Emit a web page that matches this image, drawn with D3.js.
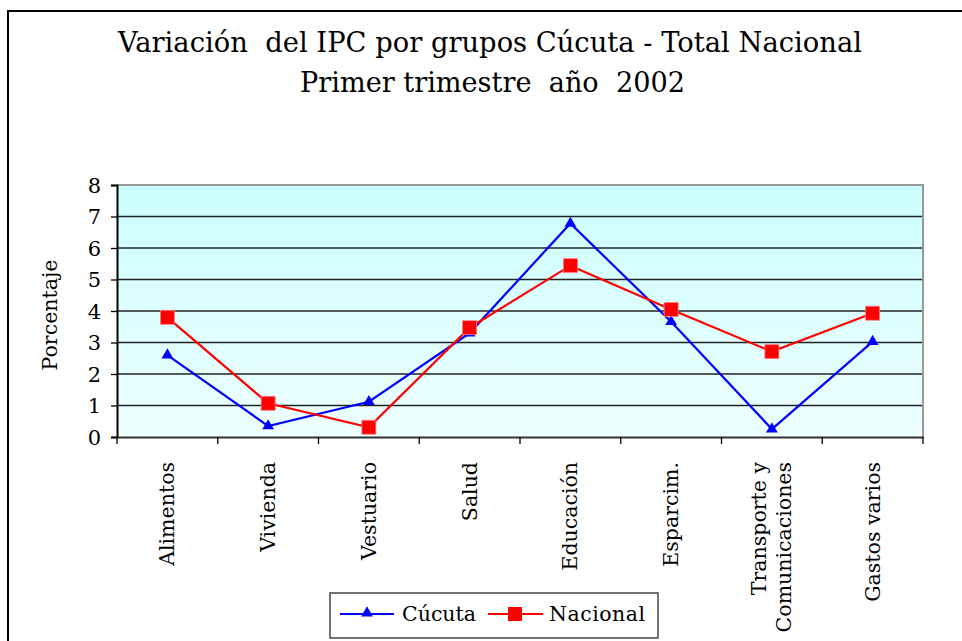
<!DOCTYPE html>
<html><head><meta charset="utf-8">
<script src="https://cdn.jsdelivr.net/npm/d3@7"></script>
<style>body{margin:0;background:#fff}svg{display:block}text{white-space:pre}</style>
</head><body><svg id="c" width="962" height="641"></svg>
<script>
const categories = ["Alimentos","Vivienda","Vestuario","Salud","Educación","Esparcim.","Transporte y|Comunicaciones","Gastos varios"];
const cucuta   = [2.6, 0.35, 1.12, 3.3, 6.78, 3.66, 0.25, 3.03];
const nacional = [3.8, 1.07, 0.31, 3.47, 5.44, 4.05, 2.71, 3.93];
const yTicks = [0,1,2,3,4,5,6,7,8];
const titleLines = ["Variación  del IPC por grupos Cúcuta - Total Nacional","Primer trimestre  año  2002"];
const seriesNames = ["Cúcuta","Nacional"];

const svg = d3.select("#c");
const serif = "DejaVu Serif";
const L=117, R=923, T=185, B=437;

// outer frame
svg.append("rect").attr("x",8).attr("y",11).attr("width",1000).attr("height",700)
  .attr("fill","none").attr("stroke","#000").attr("stroke-width",2);

// title
svg.append("text").attr("x",118).attr("y",52)
  .attr("font-family",serif).attr("font-size",28)
  .attr("textLength",744).attr("lengthAdjust","spacingAndGlyphs").text(titleLines[0]);
svg.append("text").attr("x",300).attr("y",92)
  .attr("font-family",serif).attr("font-size",28)
  .attr("textLength",385).attr("lengthAdjust","spacingAndGlyphs").text(titleLines[1]);

const x = d3.scaleBand().domain(categories).range([L,R]);
const y = d3.scaleLinear().domain([0,8]).range([B,T]);

const defs = svg.append("defs");
const g = defs.append("linearGradient").attr("id","bg").attr("x1",0).attr("y1",0).attr("x2",0).attr("y2",1);
g.append("stop").attr("offset","0%").attr("stop-color","#CCFFFF");
g.append("stop").attr("offset","100%").attr("stop-color","#EEFFFF");

svg.append("rect").attr("x",L).attr("y",T).attr("width",R-L).attr("height",B-T).attr("fill","url(#bg)");

// gridlines
svg.append("g").selectAll("line").data(yTicks.filter(d=>d>0&&d<8)).join("line")
  .attr("x1",L).attr("x2",R).attr("y1",d=>y(d)).attr("y2",d=>y(d))
  .attr("stroke","#222").attr("stroke-width",1.3);

// top & right border gray
svg.append("path").attr("d",`M${L},${T}H${R}V${B}`).attr("fill","none").attr("stroke","#999").attr("stroke-width",2);

// y axis
const ya = svg.append("g").attr("transform",`translate(${L},0)`)
  .call(d3.axisLeft(y).tickValues(yTicks).tickSize(6).tickPadding(10).tickFormat(d3.format("d")));
ya.select(".domain").attr("stroke","#000").attr("stroke-width",2);
ya.selectAll(".tick line").attr("stroke","#000").attr("stroke-width",1.3);
ya.selectAll("text").attr("font-family",serif).attr("font-size",21).attr("fill","#000").attr("dy","0.35em");

// x axis
const xa = svg.append("g").attr("transform",`translate(0,${B})`)
  .call(d3.axisBottom(x).tickSize(0).tickFormat(""));
xa.select(".domain").attr("stroke","#333").attr("stroke-width",2);
svg.append("g").selectAll("line").data(d3.range(categories.length+1)).join("line")
  .attr("x1",i=>L+i*x.step()).attr("x2",i=>L+i*x.step()).attr("y1",B).attr("y2",B+7)
  .attr("stroke","#000").attr("stroke-width",1.3);

// x labels rotated
categories.forEach(c=>{
  const parts = c.split("|");
  const cx = x(c)+x.bandwidth()/2;
  const t = svg.append("text").attr("transform",`translate(${cx},462) rotate(-90)`)
    .attr("text-anchor","end").attr("font-family",serif).attr("font-size",20.5);
  const n = parts.length;
  parts.forEach((p,i)=>{
    t.append("tspan").attr("x",0).attr("y",0).attr("dy",(7 + (i-(n-1)/2)*25)+"px").text(p);
  });
});

// y title
svg.append("text").attr("transform","translate(57,315) rotate(-90)").attr("text-anchor","middle")
  .attr("font-family",serif).attr("font-size",20.5).text("Porcentaje");

const line = d3.line().x((d,i)=>x(categories[i])+x.bandwidth()/2).y(d=>y(d));
svg.append("path").datum(cucuta).attr("d",line).attr("fill","none").attr("stroke","#0000FF").attr("stroke-width",2.2);
svg.append("path").datum(nacional).attr("d",line).attr("fill","none").attr("stroke","#FF0000").attr("stroke-width",2.2);

const tri = d3.symbol().type(d3.symbolTriangle).size(60);
svg.append("g").selectAll("path").data(cucuta).join("path")
  .attr("d",tri).attr("transform",(d,i)=>`translate(${x(categories[i])+x.bandwidth()/2},${y(d)})`)
  .attr("fill","#0000FF");
svg.append("g").selectAll("rect").data(nacional).join("rect")
  .attr("x",(d,i)=>x(categories[i])+x.bandwidth()/2-7).attr("y",d=>y(d)-7)
  .attr("width",14).attr("height",14).attr("fill","#FF0000").attr("stroke","#ff8080").attr("stroke-width",0.8);

// legend
const lg = svg.append("g");
lg.append("rect").attr("x",330).attr("y",593).attr("width",328).attr("height",45)
  .attr("fill","#fff").attr("stroke","#444").attr("stroke-width",1.5);
lg.append("line").attr("x1",340).attr("x2",394).attr("y1",614).attr("y2",614).attr("stroke","#0000FF").attr("stroke-width",2.2);
lg.append("path").attr("d",tri).attr("transform","translate(367,613)").attr("fill","#0000FF");
lg.append("text").attr("x",402).attr("y",621).attr("font-family",serif).attr("font-size",20.5).text(seriesNames[0]);
lg.append("line").attr("x1",488).attr("x2",543).attr("y1",614).attr("y2",614).attr("stroke","#FF0000").attr("stroke-width",2.2);
lg.append("rect").attr("x",508).attr("y",607).attr("width",14).attr("height",14).attr("fill","#FF0000");
lg.append("text").attr("x",549).attr("y",621).attr("font-family",serif).attr("font-size",20.5).attr("textLength",96).attr("lengthAdjust","spacing").text(seriesNames[1]);
</script></body></html>
